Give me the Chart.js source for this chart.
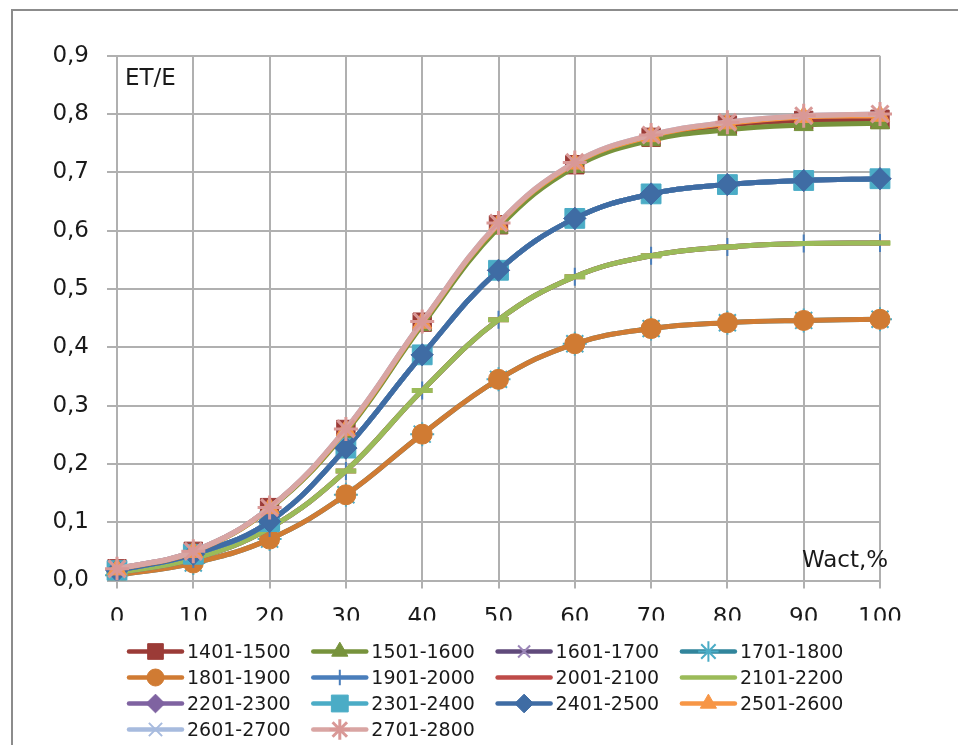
<!DOCTYPE html>
<html>
<head>
<meta charset="utf-8">
<script src="https://cdn.jsdelivr.net/npm/chart.js@4.4.1/dist/chart.umd.min.js"></script>
<style>
  html, body { margin: 0; padding: 0; background: #ffffff; }
  canvas { display: block; }
</style>
</head>
<body>
<canvas id="c" width="958" height="745"></canvas>
<script>
// Soil moisture Wact, % (category axis)
const wact = ['0', '10', '20', '30', '40', '50', '60', '70', '80', '90', '100'];
const yTickLabels = ['0,0', '0,1', '0,2', '0,3', '0,4', '0,5', '0,6', '0,7', '0,8', '0,9'];

// ET/E ratio per elevation band
const s1401_1500 = [0.020, 0.050, 0.125, 0.259, 0.443, 0.610, 0.713, 0.760, 0.781, 0.789, 0.791];
const s1501_1600 = [0.019, 0.049, 0.123, 0.255, 0.438, 0.605, 0.709, 0.755, 0.773, 0.781, 0.784];
const s1601_1700 = [0.017, 0.045, 0.101, 0.227, 0.387, 0.532, 0.621, 0.663, 0.679, 0.686, 0.689];
const s1701_1800 = [0.009, 0.030, 0.071, 0.147, 0.251, 0.345, 0.406, 0.432, 0.442, 0.446, 0.448];
const s1801_1900 = [0.009, 0.030, 0.071, 0.147, 0.251, 0.345, 0.406, 0.432, 0.442, 0.446, 0.448];
const s1901_2000 = [0.013, 0.037, 0.090, 0.188, 0.326, 0.447, 0.521, 0.557, 0.572, 0.578, 0.579];
const s2001_2100 = [0.013, 0.037, 0.090, 0.188, 0.326, 0.447, 0.521, 0.557, 0.572, 0.578, 0.579];
const s2101_2200 = [0.013, 0.037, 0.090, 0.188, 0.326, 0.447, 0.521, 0.557, 0.572, 0.578, 0.579];
const s2201_2300 = [0.017, 0.045, 0.101, 0.227, 0.387, 0.532, 0.621, 0.663, 0.679, 0.686, 0.689];
const s2301_2400 = [0.017, 0.045, 0.101, 0.227, 0.387, 0.532, 0.621, 0.663, 0.679, 0.686, 0.689];
const s2401_2500 = [0.017, 0.045, 0.101, 0.227, 0.387, 0.532, 0.621, 0.663, 0.679, 0.686, 0.689];
const s2501_2600 = [0.019, 0.049, 0.124, 0.258, 0.442, 0.611, 0.715, 0.762, 0.784, 0.795, 0.797];
const s2601_2700 = [0.020, 0.050, 0.125, 0.260, 0.444, 0.613, 0.717, 0.764, 0.786, 0.797, 0.800];
const s2701_2800 = [0.020, 0.050, 0.125, 0.260, 0.444, 0.613, 0.717, 0.764, 0.786, 0.797, 0.800];

const FONT = '"DejaVu Sans", "Liberation Sans", sans-serif';
const TEXT = '#1a1a1a';

// name, values, line colour, marker style, marker fill, marker stroke, radius, marker stroke width
const seriesDefs = [
  ['1401-1500', s1401_1500, '#9b3b37', 'rect',      '#9b3b37', '#9b3b37', 13,   1],
  ['1501-1600', s1501_1600, '#77933c', 'triangle',  '#77933c', '#77933c', 11,   1],
  ['1601-1700', s1601_1700, '#604a7b', 'crossRot',  '#9b86b8', '#9b86b8', 10,   2],
  ['1701-1800', s1701_1800, '#31859c', 'star',      '#4bacc6', '#4bacc6', 12,   2],
  ['1801-1900', s1801_1900, '#d07b33', 'circle',    '#d07b33', '#d07b33', 10,   1],
  ['1901-2000', s1901_2000, '#4a7ebb', 'cross',     '#4a7ebb', '#4a7ebb', 9,    2],
  ['2001-2100', s2001_2100, '#be4b48', 'line',      '#be4b48', '#be4b48', 10,   5],
  ['2101-2200', s2101_2200, '#9bbb59', 'line',      '#9bbb59', '#9bbb59', 10.5, 5],
  ['2201-2300', s2201_2300, '#7f63a1', 'rectRot',   '#7f63a1', '#7f63a1', 11,   1],
  ['2301-2400', s2301_2400, '#4bacc6', 'rect',      '#4bacc6', '#4bacc6', 14,   1],
  ['2401-2500', s2401_2500, '#3f6ca4', 'rectRot',   '#3f6ca4', '#3f6ca4', 11,   1],
  ['2501-2600', s2501_2600, '#f79646', 'triangle',  '#f79646', '#f79646', 11,   1],
  ['2601-2700', s2601_2700, '#a7bbde', 'crossRot',  '#a7bbde', '#a7bbde', 11,   2],
  ['2701-2800', s2701_2800, '#d9a5a3', 'star',      '#d99896', '#d99896', 12,   3]
];

const datasets = seriesDefs.map((d, i) => ({
  label: d[0],
  data: d[1],
  borderColor: d[2],
  backgroundColor: d[2],
  borderWidth: 5,
  tension: 0.4,
  pointStyle: d[3],
  pointBackgroundColor: d[4],
  pointBorderColor: d[5],
  pointRadius: d[6],
  pointHoverRadius: d[6],
  pointBorderWidth: d[7],
  pointHoverBorderWidth: d[7],
  // later series are painted over earlier ones
  order: seriesDefs.length - i
}));

function drawMarker(ctx, style, radius, bw, x, y) {
  const opts = { pointStyle: style, radius: radius, borderWidth: bw, rotation: 0 };
  if (Chart.helpers && Chart.helpers.drawPoint) {
    Chart.helpers.drawPoint(ctx, opts, x, y);
  }
}

const decorations = {
  id: 'decorations',
  beforeDraw(chart) {
    const ctx = chart.ctx;
    ctx.save();
    ctx.fillStyle = '#ffffff';
    ctx.fillRect(0, 0, chart.width, chart.height);
    ctx.restore();
  },
  afterDraw(chart) {
    const ctx = chart.ctx;
    const area = chart.chartArea;
    ctx.save();
    // outer frame
    ctx.strokeStyle = '#8c8c8c';
    ctx.lineWidth = 2;
    ctx.strokeRect(12, 10, 1200, 1200);

    // axis captions inside the plot
    ctx.fillStyle = TEXT;
    ctx.font = '23px ' + FONT;
    ctx.textAlign = 'left';
    ctx.textBaseline = 'alphabetic';
    ctx.fillText('ET/E', area.left + 8, area.top + 29);
    ctx.fillText('Wact,%', area.right - 78, area.bottom - 14);

    // legend: four columns, line + marker + label
    ctx.font = '19px ' + FONT;
    seriesDefs.forEach((d, i) => {
      const col = i % 4;
      const row = Math.floor(i / 4);
      const x0 = 129 + col * 184.3;
      const y = 651.5 + row * 26;
      ctx.strokeStyle = d[2];
      ctx.lineWidth = 4.5;
      ctx.lineCap = 'round';
      ctx.beginPath();
      ctx.moveTo(x0, y);
      ctx.lineTo(x0 + 53, y);
      ctx.stroke();
      ctx.lineCap = 'butt';
      if (d[3] !== 'line') {
        ctx.fillStyle = d[4];
        ctx.strokeStyle = d[5];
        ctx.lineWidth = d[7];
        drawMarker(ctx, d[3], d[6] * 0.85, d[7], x0 + 26.5, y);
      }
      ctx.fillStyle = TEXT;
      ctx.fillText(d[0], x0 + 58, y + 6.8);
    });
    ctx.restore();
  }
};

new Chart(document.getElementById('c'), {
  type: 'line',
  data: { labels: wact, datasets: datasets },
  options: {
    responsive: false,
    animation: false,
    events: [],
    layout: { padding: { left: 0, top: 55.7, right: 78, bottom: 124.5 } },
    plugins: { legend: { display: false }, tooltip: { enabled: false } },
    scales: {
      x: {
        type: 'category',
        offset: false,
        border: { display: false },
        grid: { color: '#b0b0b0', lineWidth: 2, tickLength: 8, drawTicks: true },
        ticks: { color: TEXT, font: { family: FONT, size: 23 }, padding: 16, maxRotation: 0, autoSkip: false },
        afterFit(s) { s.height = 40; }
      },
      y: {
        min: 0,
        max: 0.9,
        border: { display: false },
        grid: { color: '#b0b0b0', lineWidth: 2, tickLength: 10, drawTicks: true },
        ticks: {
          stepSize: 0.1,
          color: TEXT,
          font: { family: FONT, size: 23 },
          padding: 18,
          callback: (v, idx) => yTickLabels[idx]
        },
        afterFit(s) { s.width = 117; }
      }
    }
  },
  plugins: [decorations]
});
</script>
</body>
</html>
